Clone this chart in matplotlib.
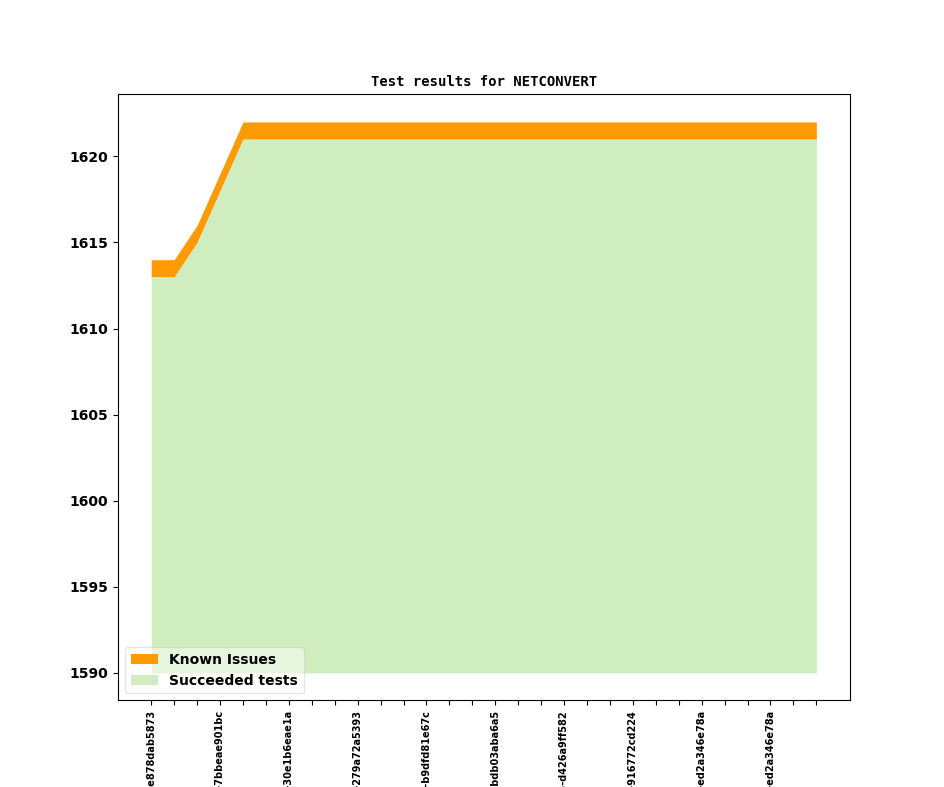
import numpy as np
import matplotlib.pyplot as plt

# revisions (only every third one gets a label on the axis)
revisions = [
    "v1_20_0+0401-e878dab5873", "v1_20_0+0402-5c1a9d02e3b", "v1_20_0+0405-a1c03f77d2e",
    "v1_20_0+0409-7bbeae901bc", "v1_20_0+0411-3e9f0b2c6d1", "v1_20_0+0414-bb04e6d19f2",
    "v1_20_0+0418-30e1b6eae1a", "v1_20_0+0420-0d7e4c5a1b8", "v1_20_0+0423-64f2a9c3e07",
    "v1_20_0+0427-279a72a5393", "v1_20_0+0430-c8d1e2f7a46", "v1_20_0+0433-9a0b3c6d5e4",
    "v1_20_0+0436-b9dfd81e67c", "v1_20_0+0440-1f2e3d4c5b6", "v1_20_0+0443-e7a8b9c0d12",
    "v1_20_0+0447-bdb03aba6a5", "v1_20_0+0450-4a5b6c7d8e9", "v1_20_0+0452-f0e1d2c3b4a",
    "v1_20_0+0455-d426a9ff582", "v1_20_0+0458-2b3c4d5e6f7", "v1_20_0+0461-8e9f0a1b2c3",
    "v1_20_0+0465-916772cd224", "v1_20_0+0468-6d7e8f9a0b1", "v1_20_0+0470-c2d3e4f5a6b",
    "v1_20_0+0474-ed2a346e78a", "v1_20_0+0474-ed2a346e78a", "v1_20_0+0474-ed2a346e78a",
    "v1_20_0+0474-ed2a346e78a", "v1_20_0+0474-ed2a346e78a", "v1_20_0+0474-ed2a346e78a",
]
succeeded = np.array([1613, 1613, 1615, 1618] + [1621] * 26)
known_issues = np.array([1] * 30)
baseline = 1590

x = np.arange(len(revisions))

fig, ax = plt.subplots(figsize=(9.44, 7.87), dpi=100)
ax.fill_between(x, succeeded, succeeded + known_issues, color="#fe9a02",
                linewidth=0, label="Known Issues")
ax.fill_between(x, baseline, succeeded, color="#d0edbf",
                linewidth=0, label="Succeeded tests")

ax.set_title("Test results for NETCONVERT", family="monospace",
             fontweight="bold", fontsize=10)
ax.set_xticks(x)
ax.set_xticklabels([r if i % 3 == 0 else "" for i, r in enumerate(revisions)],
                   rotation=90, fontsize=7, fontweight="bold")
for lbl in ax.get_yticklabels():
    lbl.set_fontweight("bold")
ax.legend(loc="lower left", prop={"weight": "bold"}, framealpha=0.5)

fig.savefig("out.png", dpi=100)
